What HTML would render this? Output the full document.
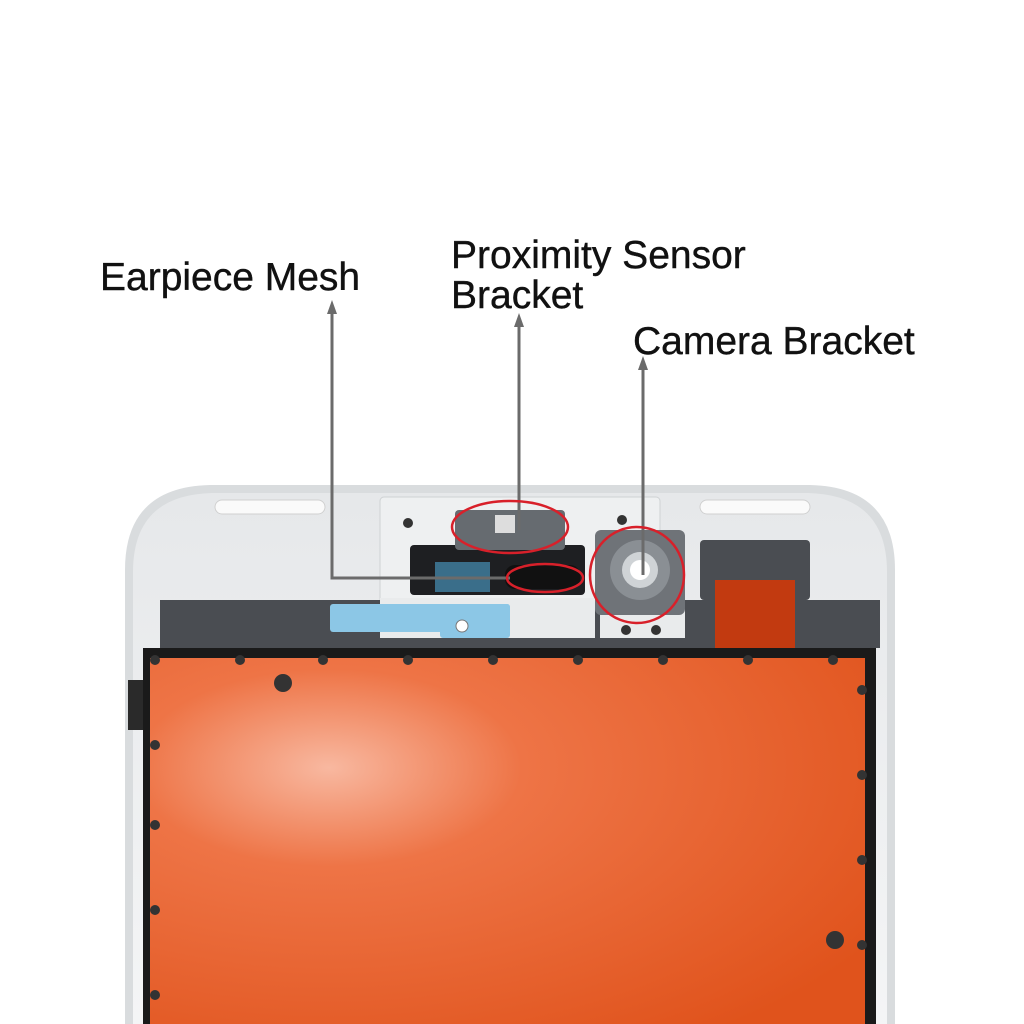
<!DOCTYPE html>
<html><head><style>
body{margin:0;width:1024px;height:1024px;background:#fff;overflow:hidden;position:relative;font-family:"Liberation Sans",sans-serif}
.t{position:absolute;font-size:39px;color:#111;line-height:40px;white-space:nowrap;-webkit-text-stroke:0.4px #111}
</style></head><body>
<svg width="1024" height="1024" style="position:absolute;left:0;top:0">
<defs>
<radialGradient id="og" cx="0.25" cy="0.3" r="0.9">
<stop offset="0" stop-color="#f8b8a0"/><stop offset="0.3" stop-color="#ee7446"/><stop offset="1" stop-color="#e0531c"/>
</radialGradient>
<linearGradient id="fr" x1="0" y1="0" x2="0" y2="1"><stop offset="0" stop-color="#e6e8ea"/><stop offset="1" stop-color="#f4f5f6"/></linearGradient>
</defs>
<path d="M125 1024 L125 570 Q125 487 210 485 L810 485 Q895 487 895 570 L895 1024 Z" fill="#d9dcde"/>
<path d="M133 1024 L133 572 Q133 495 212 493 L808 493 Q887 495 887 572 L887 1024 Z" fill="url(#fr)"/>
<rect x="215" y="500" width="110" height="14" rx="7" fill="#fafafa" stroke="#d0d0d0"/>
<rect x="700" y="500" width="110" height="14" rx="7" fill="#fafafa" stroke="#d0d0d0"/>
<rect x="380" y="497" width="280" height="135" rx="4" fill="#eef0f1" stroke="#cfd2d4"/>
<rect x="160" y="600" width="720" height="48" fill="#4a4d52"/>
<rect x="380" y="598" width="215" height="40" fill="#e9ebec"/>
<rect x="600" y="598" width="85" height="40" fill="#e9ebec"/>
<rect x="330" y="604" width="180" height="28" rx="3" fill="#8cc7e6"/>
<rect x="440" y="604" width="70" height="34" rx="3" fill="#8cc7e6"/>
<circle cx="462" cy="626" r="6" fill="#fff" stroke="#777"/>
<rect x="410" y="545" width="175" height="50" rx="4" fill="#1e1f22"/>
<rect x="435" y="562" width="55" height="30" fill="#3a6e8a"/>
<rect x="505" y="565" width="75" height="24" rx="10" fill="#111"/>
<rect x="455" y="510" width="110" height="40" rx="4" fill="#666b70"/>
<rect x="495" y="515" width="20" height="18" fill="#ddd"/>
<rect x="595" y="530" width="90" height="85" rx="6" fill="#6f7378"/>
<circle cx="640" cy="570" r="30" fill="#8a8f94"/>
<circle cx="640" cy="570" r="18" fill="#cfd3d6"/>
<circle cx="640" cy="570" r="10" fill="#fff"/>
<circle cx="408" cy="523" r="5" fill="#333"/><circle cx="622" cy="520" r="5" fill="#333"/>
<circle cx="626" cy="630" r="5" fill="#333"/><circle cx="656" cy="630" r="5" fill="#333"/>
<rect x="700" y="540" width="110" height="60" rx="4" fill="#4a4d52"/>
<rect x="715" y="580" width="80" height="70" fill="#c23a10"/>
<rect x="143" y="648" width="733" height="376" fill="#1a1a1a"/>
<rect x="150" y="658" width="715" height="366" fill="url(#og)"/>
<rect x="128" y="680" width="15" height="50" fill="#2a2a2a"/>
<g fill="#333">
<circle cx="155" cy="660" r="5"/><circle cx="240" cy="660" r="5"/><circle cx="323" cy="660" r="5"/><circle cx="408" cy="660" r="5"/><circle cx="493" cy="660" r="5"/><circle cx="578" cy="660" r="5"/><circle cx="663" cy="660" r="5"/><circle cx="748" cy="660" r="5"/><circle cx="833" cy="660" r="5"/>
<circle cx="283" cy="683" r="9"/>
<circle cx="155" cy="745" r="5"/><circle cx="155" cy="825" r="5"/><circle cx="155" cy="910" r="5"/><circle cx="155" cy="995" r="5"/>
<circle cx="862" cy="690" r="5"/><circle cx="862" cy="775" r="5"/><circle cx="862" cy="860" r="5"/><circle cx="862" cy="945" r="5"/>
<circle cx="835" cy="940" r="9"/>
</g>
<g stroke="#6b6b6b" stroke-width="3" fill="none">
<polyline points="332,312 332,578 510,578"/>
<line x1="519" y1="325" x2="519" y2="530"/>
<line x1="643" y1="368" x2="643" y2="575"/>
</g>
<g fill="#6b6b6b">
<polygon points="332,300 327,314 337,314"/>
<polygon points="519,313 514,327 524,327"/>
<polygon points="643,356 638,370 648,370"/>
</g>
<g stroke="#d8202a" stroke-width="2.5" fill="none">
<ellipse cx="510" cy="527" rx="58" ry="26"/>
<ellipse cx="545" cy="578" rx="38" ry="14"/>
<ellipse cx="637" cy="575" rx="47" ry="48"/>
</g>
</svg>
<div class="t" style="left:100px;top:258px">Earpiece Mesh</div>
<div class="t" style="left:451px;top:236px">Proximity Sensor<br>Bracket</div>
<div class="t" style="left:633px;top:322px">Camera Bracket</div>
</body></html>
